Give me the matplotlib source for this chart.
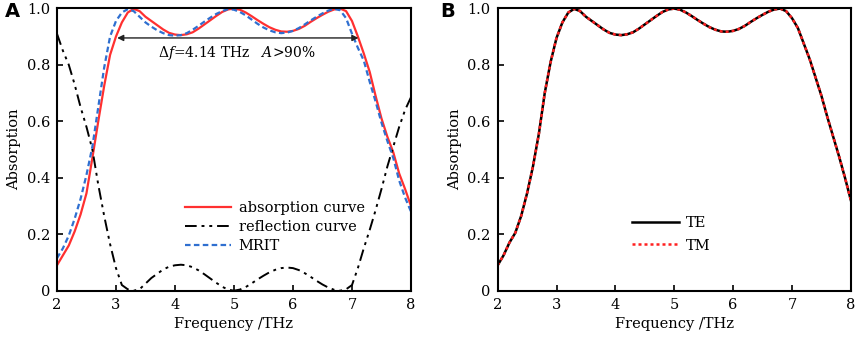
import numpy as np
import matplotlib.pyplot as plt

plt.rcParams.update({
    "font.family": "DejaVu Serif",
    "font.size": 10,
    "mathtext.fontset": "dejavuserif",
})

# frequency grid (THz)
freq = np.round(np.arange(2.0, 8.01, 0.1), 1)

# panel A
absorption = [0.09, 0.125, 0.16, 0.21, 0.27, 0.345, 0.47, 0.60, 0.725, 0.835,
              0.9, 0.95, 0.985, 0.998, 0.99, 0.97, 0.955, 0.94, 0.925, 0.913,
              0.907, 0.905, 0.908, 0.915, 0.928, 0.943, 0.958, 0.973, 0.987, 0.996,
              0.999, 0.995, 0.985, 0.972, 0.958, 0.945, 0.933, 0.924, 0.918, 0.917,
              0.920, 0.927, 0.938, 0.952, 0.965, 0.977, 0.988, 0.996, 0.999, 0.99,
              0.955, 0.90, 0.84, 0.775, 0.69, 0.61, 0.545, 0.49, 0.415, 0.36, 0.30]
mrit = [0.115, 0.15, 0.195, 0.255, 0.325, 0.41, 0.51, 0.65, 0.79, 0.90,
        0.955, 0.985, 0.997, 0.99, 0.97, 0.95, 0.935, 0.922, 0.912, 0.905,
        0.903, 0.905, 0.912, 0.924, 0.938, 0.953, 0.967, 0.98, 0.99, 0.997,
        0.995, 0.987, 0.975, 0.96, 0.945, 0.932, 0.922, 0.915, 0.912, 0.914,
        0.92, 0.93, 0.943, 0.957, 0.97, 0.982, 0.992, 0.998, 0.993, 0.965,
        0.91, 0.86, 0.815, 0.74, 0.67, 0.595, 0.53, 0.47, 0.39, 0.33, 0.28]
reflection = [0.91, 0.85, 0.80, 0.73, 0.65, 0.58, 0.50, 0.375, 0.265, 0.165,
              0.08, 0.02, 0.005, 0.0, 0.005, 0.025, 0.045, 0.06, 0.075, 0.085,
              0.09, 0.092, 0.09, 0.083, 0.072, 0.058, 0.043, 0.028, 0.014, 0.004,
              0.0, 0.004, 0.013, 0.026, 0.04, 0.053, 0.065, 0.074, 0.08, 0.082,
              0.08, 0.073, 0.062, 0.049, 0.035, 0.022, 0.011, 0.003, 0.0, 0.005,
              0.02, 0.08, 0.15, 0.215, 0.285, 0.36, 0.44, 0.51, 0.58, 0.64, 0.685]

# panel B
te = [0.09, 0.125, 0.17, 0.205, 0.265, 0.345, 0.44, 0.555, 0.70, 0.81,
      0.895, 0.95, 0.985, 0.998, 0.99, 0.97, 0.955, 0.94, 0.925, 0.913,
      0.907, 0.905, 0.908, 0.915, 0.928, 0.943, 0.958, 0.973, 0.987, 0.996,
      0.999, 0.995, 0.985, 0.972, 0.958, 0.945, 0.933, 0.924, 0.918, 0.917,
      0.920, 0.927, 0.938, 0.952, 0.965, 0.977, 0.988, 0.996, 0.999, 0.99,
      0.965, 0.93, 0.875, 0.82, 0.755, 0.69, 0.615, 0.545, 0.475, 0.40, 0.32]
tm = list(te)

xticks = [2, 3, 4, 5, 6, 7, 8]
yticks = [0, 0.2, 0.4, 0.6, 0.8, 1.0]
yticklabels = ["0", "0.2", "0.4", "0.6", "0.8", "1.0"]

fig = plt.figure(figsize=(8.58, 3.40), dpi=100)
axA = fig.add_axes([0.0664, 0.145, 0.4126, 0.8306])
axB = fig.add_axes([0.580, 0.145, 0.4117, 0.8306])


def style(ax):
    ax.set_xlim(2, 8)
    ax.set_ylim(0, 1.0)
    ax.set_xticks(xticks)
    ax.set_yticks(yticks)
    ax.set_yticklabels(yticklabels)
    ax.tick_params(direction="in", length=4, width=1.2, labelsize=10.5,
                   top=False, right=False, pad=5)
    for s in ax.spines.values():
        s.set_linewidth(1.5)
    ax.set_xlabel("Frequency /THz", fontsize=10.5, labelpad=4)
    ax.set_ylabel("Absorption", fontsize=10.5, labelpad=4)


# A
axA.plot(freq, absorption, color="#ff3030", lw=1.6, label="absorption curve")
axA.plot(freq, reflection, color="black", lw=1.4, dashes=(6, 2.5, 1.5, 2.5, 1.5, 2.5),
         label="reflection curve")
axA.plot(freq, mrit, color="#2f6fd0", lw=1.6, dashes=(2.5, 1.5), label="MRIT")
style(axA)
axA.annotate("", xy=(3.02, 0.895), xytext=(7.11, 0.895),
             arrowprops=dict(arrowstyle="<|-|>", color="#222222", lw=1.0,
                             mutation_scale=9, shrinkA=0, shrinkB=0))
axA.text(5.05, 0.84, r"$\Delta f$=4.14 THz   $A$>90%", ha="center", va="center",
         fontsize=10)
axA.legend(loc="center left", bbox_to_anchor=(0.34, 0.225), frameon=False,
           handlelength=3.2, handletextpad=0.5, labelspacing=0.35, fontsize=10.5,
           borderpad=0)
fig.text(0.006, 0.965, "A", fontsize=14, fontweight="bold", family="DejaVu Sans",
         va="center")

# B
axB.plot(freq, te, color="black", lw=1.8, label="TE")
axB.plot(freq, tm, color="#ff2020", lw=1.8, linestyle=(0, (1.2, 1.2)), label="TM")
style(axB)
axB.legend(loc="center left", bbox_to_anchor=(0.36, 0.2), frameon=False,
           handlelength=3.2, handletextpad=0.5, labelspacing=0.6, fontsize=10.5,
           borderpad=0)
fig.text(0.513, 0.965, "B", fontsize=14, fontweight="bold", family="DejaVu Sans",
         va="center")

fig.savefig("out.png", dpi=100)
